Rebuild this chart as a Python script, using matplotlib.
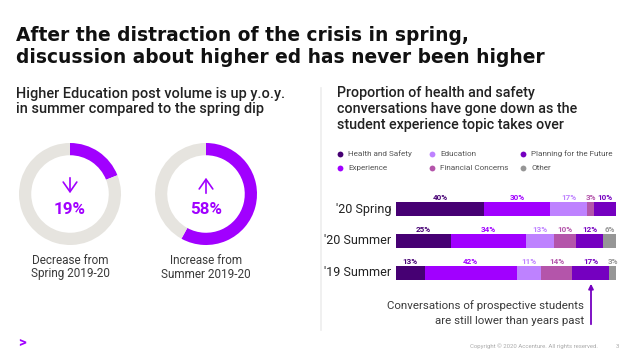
import matplotlib
matplotlib.use("Agg")
import matplotlib.pyplot as plt

W, H = 638, 359
DPI = 100

# data
donut_values = [19, 58]
donut_arrows = ["down", "up"]
donut_captions = ["Decrease from\nSpring 2019-20", "Increase from\nSummer 2019-20"]

periods = ["'20 Spring", "'20 Summer", "'19 Summer"]
topics = ["Health and Safety", "Experience", "Education",
          "Financial Concerns", "Planning for the Future", "Other"]
shares = {
    "'20 Spring": [40, 30, 17, 3, 10, 0],
    "'20 Summer": [25, 34, 13, 10, 12, 6],
    "'19 Summer": [13, 42, 11, 14, 17, 3],
}
topic_colors = ["#460073", "#A100FF", "#BE82FF", "#B455AA", "#7500C0", "#969696"]
legend_order = ["Health and Safety", "Education", "Planning for the Future",
                "Experience", "Financial Concerns", "Other"]

PURPLE = "#A100FF"
RING_GRAY = "#E6E4DF"
TXT = "#222222"

plt.rcParams['font.family'] = ['Roboto', 'DejaVu Sans']

fig = plt.figure(figsize=(W / DPI, H / DPI), dpi=DPI)
fig.patch.set_facecolor("white")


def px_axes(x, y, w, h):
    # axes from pixel box (top-left origin)
    return fig.add_axes([x / W, 1 - (y + h) / H, w / W, h / H])


def pt(px):
    return px * 72 / DPI


bg = px_axes(0, 0, W, H)
bg.set_xlim(0, W)
bg.set_ylim(H, 0)
bg.axis("off")

# title
for i, line in enumerate(["After the distraction of the crisis in spring,",
                          "discussion about higher ed has never been higher"]):
    bg.text(16, 41 + 22 * i, line, fontsize=pt(18.6), fontweight="bold",
            family="DejaVu Sans", color="#111111", va="baseline")

# sub headers
for i, line in enumerate(["Higher Education post volume is up y.o.y.",
                          "in summer compared to the spring dip"]):
    bg.text(16, 98 + 15.5 * i, line, fontsize=pt(14.5), fontweight="medium",
            color=TXT, va="baseline")
for i, line in enumerate(["Proportion of health and safety",
                          "conversations have gone down as the",
                          "student experience topic takes over"]):
    bg.text(337, 97 + 16 * i, line, fontsize=pt(14.3), fontweight="medium",
            color=TXT, va="baseline")

# divider
bg.plot([321, 321], [88, 330], color="#EDEDED", lw=1.2)

# donuts
centers = [70, 206]
for cx, val, arr, cap in zip(centers, donut_values, donut_arrows, donut_captions):
    ax = px_axes(cx - 51, 143, 102, 102)
    ax.pie([val, 100 - val], startangle=90, counterclock=False,
           colors=[PURPLE, RING_GRAY], wedgeprops=dict(width=0.24, linewidth=0))
    ax.set_xlim(-1, 1)
    ax.set_ylim(-1, 1)
    ax.axis("off")
    y0, y1 = (175, 196) if arr == "down" else (196, 175)
    bg.annotate("", xy=(cx, y1), xytext=(cx, y0),
                arrowprops=dict(arrowstyle="->,head_length=0.5,head_width=0.35",
                                color=PURPLE, lw=1.2, mutation_scale=14))
    bg.text(cx, 210, f"{val}%", fontsize=pt(17), fontweight="bold", color=PURPLE,
            ha="center", va="center")
    bg.text(cx, 267, cap, fontsize=pt(11.8), color="#3A3A3A", ha="center",
            va="center", linespacing=1.1)

# legend
leg_cols = [340, 432, 523]
for k, name in enumerate(legend_order):
    col, row = k % 3, k // 3
    x, y = leg_cols[col], 154 + 14 * row
    c = topic_colors[topics.index(name)]
    bg.plot(x, y, "o", ms=4.2, color=c, mec="none")
    bg.text(x + 8, y, name, fontsize=pt(8.2), color="#555555", va="center")

# stacked bars
bx = px_axes(396, 193, 220, 96)
left = [0] * len(periods)
for j, (topic, c) in enumerate(zip(topics, topic_colors)):
    vals = [shares[p][j] for p in periods]
    bx.barh(range(len(periods)), vals, left=left, height=0.44, color=c, linewidth=0)
    for i, v in enumerate(vals):
        if v == 0:
            continue
        xc = left[i] + v / 2
        if v < 5 and j < len(topics) - 1 and shares[periods[i]][j + 1] == 0:
            xc -= 3
        bx.text(xc, i - 0.36, f"{v}%", fontsize=pt(8), fontweight="bold",
                color=c, ha="center", va="center")
    left = [l + v for l, v in zip(left, vals)]
bx.set_xlim(0, 100)
bx.set_ylim(2.5, -0.5)
bx.axis("off")
for i, p in enumerate(periods):
    bg.text(391, 209 + 32 * i, p, fontsize=pt(12.5), color=TXT, ha="right",
            va="center")

# annotation
bg.annotate("", xy=(591, 281), xytext=(591, 327),
            arrowprops=dict(arrowstyle="-|>", color="#7500C0", lw=1.3,
                            mutation_scale=7))
bg.text(584, 306, "Conversations of prospective students", fontsize=pt(11.5),
        color="#3A3A3A", ha="right", va="center")
bg.text(584, 321, "are still lower than years past", fontsize=pt(11.5),
        color="#3A3A3A", ha="right", va="center")

# footer
bg.text(598, 346, "Copyright \u00a9 2020 Accenture. All rights reserved.", fontsize=pt(6),
        color="#AAAAAA", ha="right", va="center")
bg.text(617, 346, "3", fontsize=pt(6), color="#AAAAAA", ha="center", va="center")
bg.text(22, 343, ">", fontsize=pt(15), fontweight="bold", color=PURPLE,
        ha="center", va="center")

fig.savefig("out.png", dpi=DPI)
